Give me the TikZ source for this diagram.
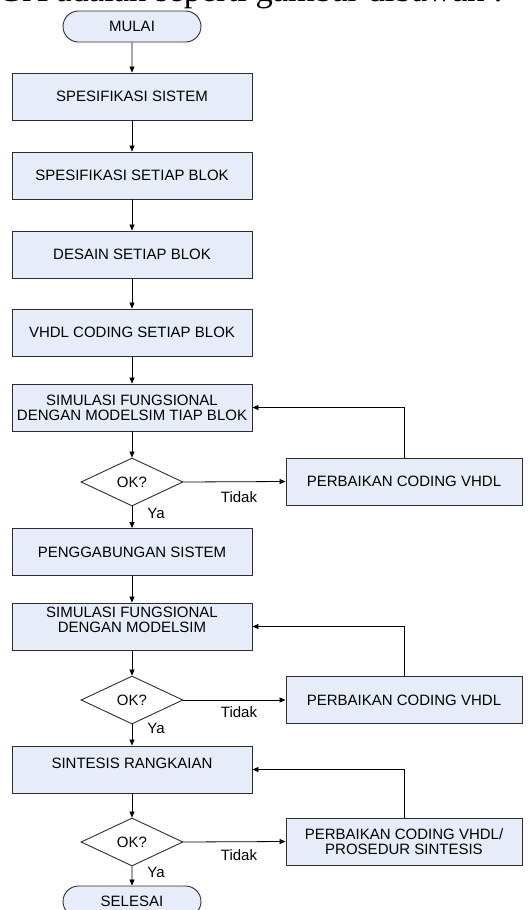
\documentclass[tikz,border=0pt]{standalone}
\usepackage{fontspec}
\setmainfont{Liberation Sans}
\newfontfamily\headfont{Liberation Serif}
\usetikzlibrary{shapes.geometric,shapes.misc,arrows.meta}
\definecolor{boxfill}{RGB}{231,237,248}
\definecolor{edge}{RGB}{45,45,45}
\begin{document}
\begin{tikzpicture}[x=1pt,y=-1pt,
  every node/.style={inner sep=0pt, font=\fontsize{15}{15}\selectfont},
  procbox/.style={draw=edge, line width=0.9pt, fill=boxfill, rectangle,
    minimum width=240pt, minimum height=47pt, align=center},
  fixbox/.style={procbox, minimum width=236pt},
  termbox/.style={draw=edge, line width=0.9pt, fill=boxfill, rounded rectangle,
    minimum width=138pt, minimum height=31pt},
  decision/.style={draw=edge, line width=0.9pt, fill=white, diamond,
    minimum width=102pt, minimum height=48pt},
  flow/.style={draw=black, line width=0.8pt, -{Triangle[length=6pt,width=5pt]}},
  boxtext/.style={align=center}
]
\useasboundingbox (0,0) rectangle (528,910);

% cropped heading line
\node[anchor=base east, font=\headfont\fontsize{34.5}{34.5}\selectfont] (head) at (503,1.5)
  {FPGA adalah seperti gambar dibawah :};

% main column
\node[termbox] (start) at (132,26.5) {MULAI};
\node[procbox] (sis) at (132,96.5) {SPESIFIKASI SISTEM};
\node[procbox] (blk) at (132,175.5) {SPESIFIKASI SETIAP BLOK};
\node[procbox] (des) at (132,254.5) {DESAIN SETIAP BLOK};
\node[procbox] (vhd) at (132,332.5) {VHDL CODING SETIAP BLOK};
\node[procbox] (sim1) at (132,407.5) {SIMULASI FUNGSIONAL\\DENGAN MODELSIM TIAP BLOK};
\node[decision] (ok1) at (132,482) {OK?};
\node[procbox] (pen) at (132,552) {PENGGABUNGAN SISTEM};
\node[procbox] (sim2) at (132,626.5) {};
\node[boxtext] (sim2t) at (132,620) {SIMULASI FUNGSIONAL\\DENGAN MODELSIM};
\node[decision] (ok2) at (132,700) {OK?};
\node[procbox] (sin) at (132,769.5) {};
\node[boxtext] (sint) at (132,763) {SINTESIS RANGKAIAN};
\node[decision] (ok3) at (132,842) {OK?};
\node[termbox] (stop) at (132,901.5) {SELESAI};

% repair boxes
\node[fixbox] (fix1) at (404,481.5) {PERBAIKAN CODING VHDL};
\node[fixbox] (fix2) at (404,700) {PERBAIKAN CODING VHDL};
\node[fixbox] (fix3) at (404,841.5) {PERBAIKAN CODING VHDL/\\PROSEDUR SINTESIS};

% main flow
\draw[flow] (start) -- (sis);
\draw[flow] (sis) -- (blk);
\draw[flow] (blk) -- (des);
\draw[flow] (des) -- (vhd);
\draw[flow] (vhd) -- (sim1);
\draw[flow] (sim1) -- (ok1);
\draw[flow] (ok1) -- (pen);
\draw[flow] (pen) -- (sim2);
\draw[flow] (sim2) -- (ok2);
\draw[flow] (ok2) -- (sin);
\draw[flow] (sin) -- (ok3);
\draw[flow] (ok3) -- (stop);

% rejected branches
\draw[flow] (ok1.east) -- (fix1.west);
\draw[flow] (ok2.east) -- (fix2.west);
\draw[flow] (ok3.east) -- (fix3.west);

% feedback loops
\draw[flow] (fix1.north) |- (sim1.east);
\draw[flow] (fix2.north) |- (sim2.east);
\draw[flow] (fix3.north) |- (sin.east);

% branch labels
\node (t1) at (239,497) {Tidak};
\node (t2) at (239,712) {Tidak};
\node (t3) at (239,855) {Tidak};
\node (y1) at (156,513) {Ya};
\node (y2) at (156,728) {Ya};
\node (y3) at (156,872) {Ya};
\end{tikzpicture}
\end{document}
